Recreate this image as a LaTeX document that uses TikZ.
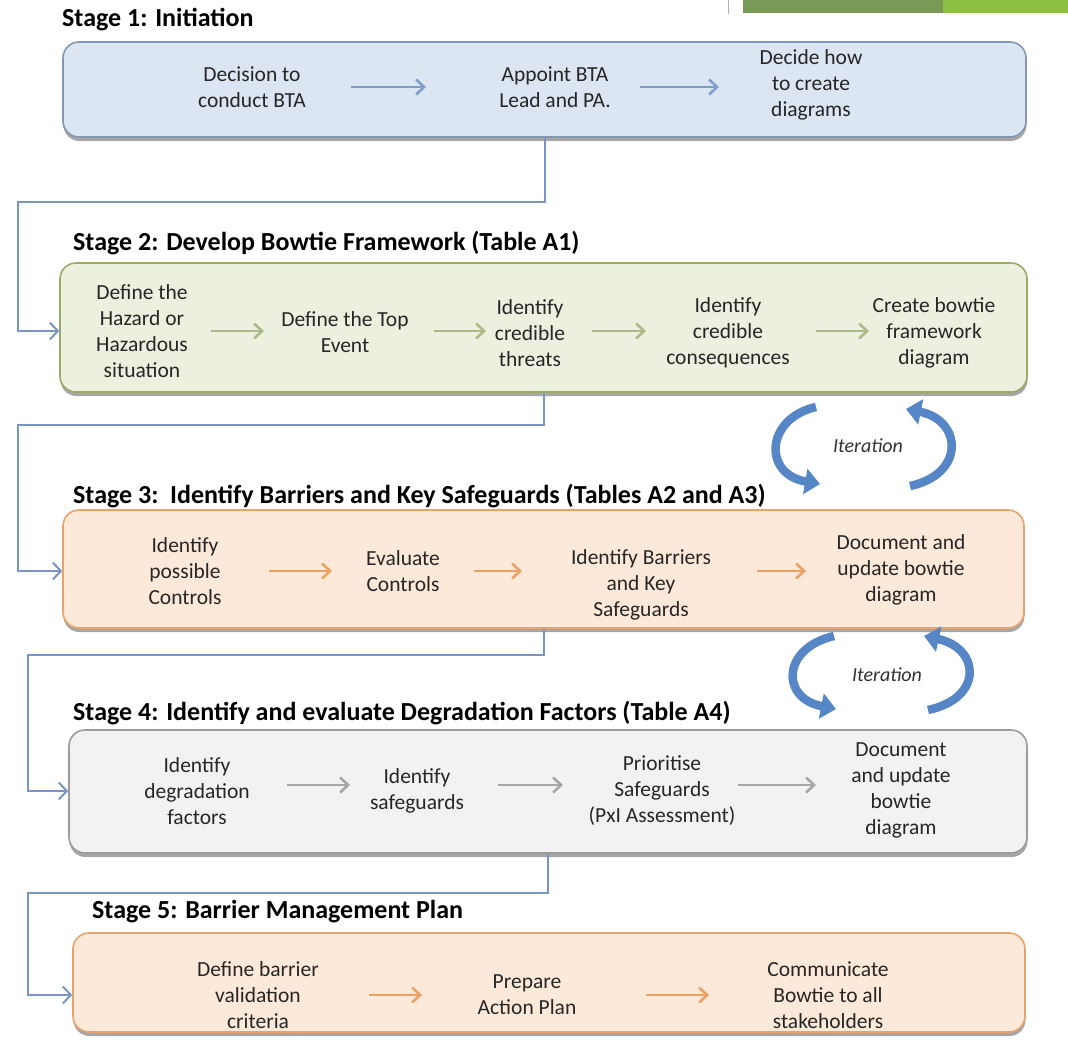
\documentclass[tikz,border=0pt]{standalone}
\usepackage{fontspec}
\setmainfont{Carlito}
\usetikzlibrary{arrows.meta,shadows}
\definecolor{b1fill}{HTML}{DCE6F2}
\definecolor{b1draw}{HTML}{8497B0}
\definecolor{b2fill}{HTML}{EBF1DE}
\definecolor{b2draw}{HTML}{9BAA64}
\definecolor{b3fill}{HTML}{FDE9D9}
\definecolor{b3draw}{HTML}{E8A26C}
\definecolor{b4fill}{HTML}{F2F2F2}
\definecolor{b4draw}{HTML}{9C9C9C}
\definecolor{connblue}{HTML}{7895C4}
\definecolor{fa}{HTML}{7F9FCB}
\definecolor{fb}{HTML}{AEB98A}
\definecolor{fc}{HTML}{E9A263}
\definecolor{fd}{HTML}{A6A6A6}
\definecolor{iterblue}{HTML}{5686C6}
\definecolor{gdark}{HTML}{799A57}
\definecolor{glight}{HTML}{8DC043}
\tikzset{
  stagebox/.style={draw, rounded corners=16pt, line width=1.6pt, inner sep=0pt,
    drop shadow={shadow xshift=0.5pt, shadow yshift=-4pt, opacity=0.35, fill=black}},
  body/.style={align=center, font=\fontsize{21.5}{26}\selectfont, text=black!85, inner sep=0pt},
  stagetitle/.style={anchor=west, font=\bfseries\fontsize{26}{30}\selectfont, inner sep=0pt},
  conn/.style={draw=connblue, line width=2pt, -{Straight Barb[length=8pt,width=17pt]}},
  flow/.style={line width=2.6pt, -{Straight Barb[length=8pt,width=15pt]}},
  iter/.style={draw=iterblue, line width=8.5pt, -{Triangle[length=15pt,width=25pt]}},
  itertext/.style={font=\itshape\fontsize{20}{22}\selectfont, text=black!80, inner sep=0pt}
}
\begin{document}
\begin{tikzpicture}[x=1pt,y=-1pt]
\useasboundingbox (0,0) rectangle (1068,1039);
\fill[white] (0,0) rectangle (1068,1039);

% top decoration
\draw[gray!60, line width=0.8pt] (728,0) -- (728,14);
\fill[gdark] (743,0) rectangle (943,13);
\fill[glight] (943,0) rectangle (1068,13);

% titles
\node[stagetitle] (t1) at (62,20) {Stage 1: Initiation};
\node[stagetitle] (t2) at (73,243) {Stage 2: Develop Bowtie Framework (Table A1)};
\node[stagetitle] (t3) at (73,496) {Stage 3:\ \ Identify Barriers and Key Safeguards (Tables A2 and A3)};
\node[stagetitle] (t4) at (73,713) {Stage 4: Identify and evaluate Degradation Factors (Table A4)};
\node[stagetitle] (t5) at (92,912) {Stage 5: Barrier Management Plan};

% boxes
\node[stagebox, draw=b1draw, fill=b1fill, minimum width=963pt, minimum height=95pt] (b1) at (544.5,89.5) {};
\node[stagebox, draw=b2draw, fill=b2fill, minimum width=967pt, minimum height=129pt] (b2) at (543.5,327.5) {};
\node[stagebox, draw=b3draw, fill=b3fill, minimum width=961pt, minimum height=118pt] (b3) at (543.5,569) {};
\node[stagebox, draw=b4draw, fill=b4fill, minimum width=958pt, minimum height=123pt] (b4) at (548,791.5) {};
\node[stagebox, draw=b3draw, fill=b3fill, minimum width=952pt, minimum height=99pt] (b5) at (549,982.5) {};

% stage 1
\node[body] (s1a) at (252,87) {Decision to\\conduct BTA};
\node[body] (s1b) at (555,87) {Appoint BTA\\Lead and PA.};
\node[body] (s1c) at (811,85) {Decide how\\to create\\diagrams};
\draw[flow, draw=fa, shorten <=99pt, shorten >=129pt] (s1a.center) -- (s1a.center -| s1b.center);
\draw[flow, draw=fa, shorten <=85pt, shorten >=92pt] (s1b.center) -- (s1b.center -| s1c.center);

% stage 2
\node[body] (s2a) at (142,331) {Define the\\Hazard or\\Hazardous\\situation};
\node[body] (s2b) at (345,332) {Define the Top\\Event};
\node[body] (s2c) at (530,333) {Identify\\credible\\threats};
\node[body] (s2d) at (728,333) {Identify\\credible\\consequences};
\node[body] (s2e) at (934,333) {Create bowtie\\framework\\diagram};
\draw[flow, draw=fb, shorten <=69pt, shorten >=81pt] (s2a.center) -- (s2a.center -| s2b.center);
\draw[flow, draw=fb, shorten <=89pt, shorten >=44pt] (s2a.center -| s2b.center) -- (s2a.center -| s2c.center);
\draw[flow, draw=fb, shorten <=62pt, shorten >=82pt] (s2a.center -| s2c.center) -- (s2a.center -| s2d.center);
\draw[flow, draw=fb, shorten <=88pt, shorten >=65pt] (s2a.center -| s2d.center) -- (s2a.center -| s2e.center);

% stage 3
\node[body] (s3a) at (185,571) {Identify\\possible\\Controls};
\node[body] (s3b) at (403,571) {Evaluate\\Controls};
\node[body] (s3c) at (641,585) {Identify Barriers\\and Key\\Safeguards};
\node[body] (s3d) at (901,570) {Document and\\update bowtie\\diagram};
\draw[flow, draw=fc, shorten <=84pt, shorten >=71pt] (s3a.center) -- (s3a.center -| s3b.center);
\draw[flow, draw=fc, shorten <=71pt, shorten >=119pt] (s3b.center) -- (s3b.center -| s3c.center);
\draw[flow, draw=fc, shorten <=116pt, shorten >=95pt] (s3a.center -| s3c.center) -- (s3a.center -| s3d.center);

% stage 4
\node[body] (s4a) at (197,791) {Identify\\degradation\\factors};
\node[body] (s4b) at (417,791) {Identify\\safeguards};
\node[body] (s4c) at (662,791) {Prioritise\\Safeguards\\(PxI Assessment)};
\node[body] (s4d) at (901,790) {Document\\and update\\bowtie\\diagram};
\draw[flow, draw=fd, shorten <=90pt, shorten >=67pt] ([yshift=6pt]s4a.center) -- ([yshift=6pt]s4a.center -| s4b.center);
\draw[flow, draw=fd, shorten <=81pt, shorten >=99pt] ([yshift=6pt]s4a.center -| s4b.center) -- ([yshift=6pt]s4a.center -| s4c.center);
\draw[flow, draw=fd, shorten <=76pt, shorten >=85pt] ([yshift=6pt]s4a.center -| s4c.center) -- ([yshift=6pt]s4a.center -| s4d.center);

% stage 5
\node[body] (s5a) at (258,995) {Define barrier\\validation\\criteria};
\node[body] (s5b) at (527,995) {Prepare\\Action Plan};
\node[body] (s5c) at (828,995) {Communicate\\Bowtie to all\\stakeholders};
\draw[flow, draw=fc, shorten <=111pt, shorten >=105pt] (s5a.center) -- (s5a.center -| s5b.center);
\draw[flow, draw=fc, shorten <=119pt, shorten >=119pt] (s5b.center) -- (s5b.center -| s5c.center);

% connectors between stages
\coordinate (k1) at (18,202);
\coordinate (k2) at (18,425);
\coordinate (k3) at (28,655);
\coordinate (k4) at (28,893);
\draw[conn] (b1.south) |- (k1) |- (b2.west |- s2a.center);
\draw[conn] (b2.south) |- (k2) |- (b3.west |- s3a.center);
\draw[conn] (b3.south) |- (k3) |- (b4.west |- s4a.center);
\draw[conn] (b4.south) |- (k4) |- (b5.west |- s5a.center);

% iteration 1
\node[itertext] (it1) at (868,446) {Iteration};
\draw[iter] (816,407) .. controls (766,418) and (762,474) .. (820,484);
\draw[iter] (910,486) .. controls (966,474) and (962,420) .. (906,409);

% iteration 2
\node[itertext] (it2) at (887,675) {Iteration};
\draw[iter] (834,636) .. controls (782,648) and (780,698) .. (836,709);
\draw[iter] (928,710) .. controls (984,698) and (980,648) .. (924,636);
\end{tikzpicture}
\end{document}
